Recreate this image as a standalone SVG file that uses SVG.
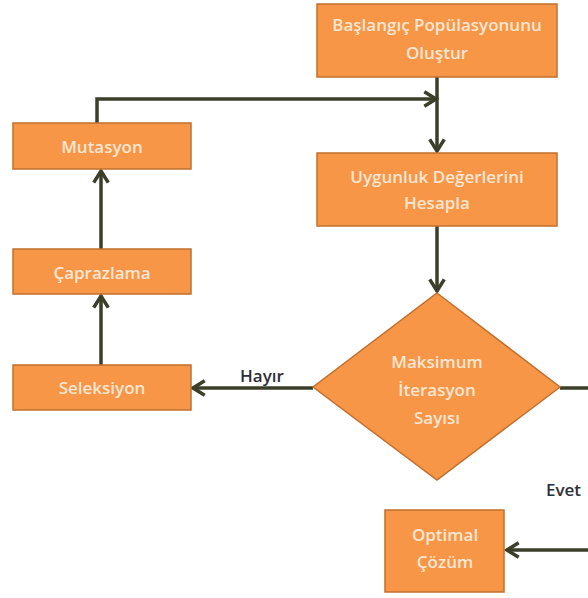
<svg xmlns="http://www.w3.org/2000/svg" width="588" height="598" viewBox="0 0 588 598">
<style>
.box{fill:#f79646;stroke:#c0702f;stroke-width:1.5}
.t{font-family:"Open Sans","Liberation Sans",sans-serif;font-size:17px;font-weight:600;fill:#fce6d4;text-anchor:middle}
.lbl{font-family:"Open Sans","Liberation Sans",sans-serif;font-size:17px;font-weight:600;fill:#2b2f3a}
.c{fill:none;stroke:#3b3f2a;stroke-width:3.5}
</style>
<defs>
<marker id="ah" viewBox="0 0 12 12" refX="10" refY="6" markerWidth="5" markerHeight="5" orient="auto" markerUnits="strokeWidth">
<path d="M2,1 L10,6 L2,11" fill="none" stroke="#3b3f2a" stroke-width="2.4"/>
</marker>
</defs>
<rect width="588" height="598" fill="#ffffff"/>
<g id="connectors">
<path class="c" d="M437,77 V151" marker-end="url(#ah)"/>
<path class="c" d="M97,123 V99 H436" marker-end="url(#ah)"/>
<path class="c" d="M437,226 V291" marker-end="url(#ah)"/>
<path class="c" d="M313,388 H193" marker-end="url(#ah)"/>
<path class="c" d="M101,365 V296" marker-end="url(#ah)"/>
<path class="c" d="M101,249 V171" marker-end="url(#ah)"/>
<path class="c" d="M560,388 H600 V550 H507" marker-end="url(#ah)"/>
<text class="lbl" x="240" y="382">Hayır</text>
<text class="lbl" x="546" y="496">Evet</text>
</g>
<g id="start">
<rect class="box" x="317" y="4" width="240" height="73"/>
<text class="t" x="437" y="31">Başlangıç Popülasyonunu</text>
<text class="t" x="437" y="59">Oluştur</text>
</g>
<g id="fitness">
<rect class="box" x="317" y="153" width="240" height="73"/>
<text class="t" x="437" y="183">Uygunluk Değerlerini</text>
<text class="t" x="437" y="209">Hesapla</text>
</g>
<g id="mutasyon">
<rect class="box" x="13" y="123" width="178" height="46"/>
<text class="t" x="102" y="153">Mutasyon</text>
</g>
<g id="caprazlama">
<rect class="box" x="13" y="249" width="178" height="45"/>
<text class="t" x="102" y="279">Çaprazlama</text>
</g>
<g id="seleksiyon">
<rect class="box" x="13" y="365" width="178" height="45"/>
<text class="t" x="102" y="394">Seleksiyon</text>
</g>
<g id="decision">
<polygon class="box" points="437,293 560,387 437,480 313,387"/>
<text class="t" x="437" y="368">Maksimum</text>
<text class="t" x="437" y="396">İterasyon</text>
<text class="t" x="437" y="424">Sayısı</text>
</g>
<g id="optimal">
<rect class="box" x="385" y="510" width="119" height="82"/>
<text class="t" x="445" y="541">Optimal</text>
<text class="t" x="445" y="568">Çözüm</text>
</g>
</svg>
